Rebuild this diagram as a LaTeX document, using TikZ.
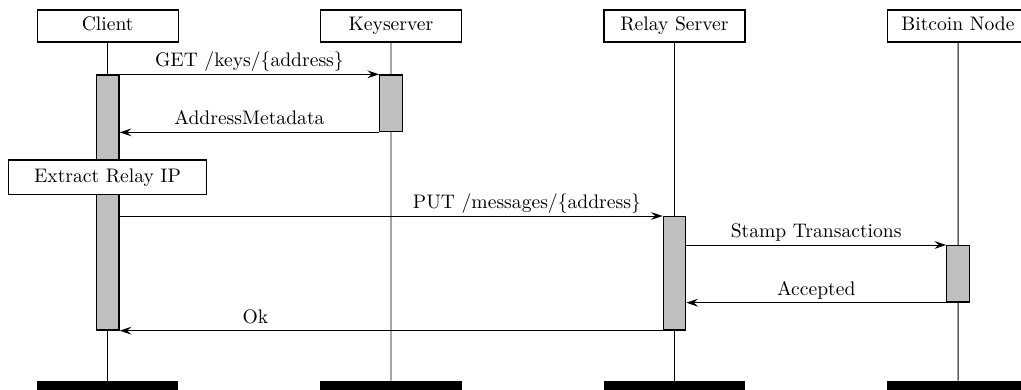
\documentclass[tikz,border=0pt]{standalone}
\usetikzlibrary{fit,arrows.meta}
\begin{document}
\begin{tikzpicture}[x=0.51pt,y=-0.51pt,
  head/.style={draw, line width=0.65pt, fill=white, minimum width=71.9pt, minimum height=16.3pt, inner sep=0pt, text height=7.2pt, text depth=2.3pt},
  extract/.style={draw, line width=0.65pt, fill=white, minimum width=101pt, minimum height=17.5pt, inner sep=0pt, text height=7.6pt, text depth=2.3pt},
  life/.style={line width=0.5pt},
  actbar/.style={draw, line width=0.7pt, fill=gray!50, inner sep=0pt},
  endbar/.style={fill=black, draw=none, inner sep=0pt},
  msg/.style={line width=0.5pt, -{Stealth[length=6pt,width=4pt,inset=2.2pt]}},
  lbl/.style={anchor=base, yshift=3.8pt, inner sep=0pt}]
\useasboundingbox (0,0) rectangle (1021,390);
\clip (0,0) rectangle (1021,390);
% heads
\node[head] (hC) at (107.7,26) {Client};
\node[head] (hK) at (391,26) {Keyserver};
\node[head] (hR) at (674.4,26) {Relay Server};
\node[head] (hB) at (958,26) {Bitcoin Node};
% end bars
\node[endbar, fit={(37,381) (178.4,398)}] (eC) {};
\node[endbar, fit={(320.3,381) (461.7,398)}] (eK) {};
\node[endbar, fit={(603.7,381) (745.1,398)}] (eR) {};
\node[endbar, fit={(887.3,381) (1028.7,398)}] (eB) {};
% lifelines
\draw[life] (hC.south) -- (eC.north);
\draw[life] (hK.south) -- (eK.north);
\draw[life] (hR.south) -- (eR.north);
\draw[life] (hB.south) -- (eB.north);
% activation bars
\node[actbar, fit={(96.7,75) (119,330)}] (aC) {};
\node[actbar, fit={(379.8,75) (402.2,131.7)}] (aK) {};
\node[actbar, fit={(663.3,216.7) (685.6,330)}] (aR) {};
\node[actbar, fit={(946.8,245.7) (969.2,302)}] (aB) {};
% extract box
\node[extract] (ex) at (107.5,177.2) {Extract Relay IP};
% messages
\draw[msg] (aC.north east) -- node[lbl]{GET /keys/\{address\}} (aK.north west);
\draw[msg] (aK.south west) -- node[lbl]{AddressMetadata} (aC.east |- aK.south);
\draw[msg] (aC.east |- aR.north) -- node[lbl, pos=0.75]{PUT /messages/\{address\}} (aR.north west);
\draw[msg] (aR.east |- aB.north) -- node[lbl]{Stamp Transactions} (aB.north west);
\draw[msg] (aB.south west) -- node[lbl]{Accepted} (aR.east |- aB.south);
\draw[msg] (aR.south west) -- node[lbl, pos=0.75]{Ok} (aC.south east);
\end{tikzpicture}
\end{document}
